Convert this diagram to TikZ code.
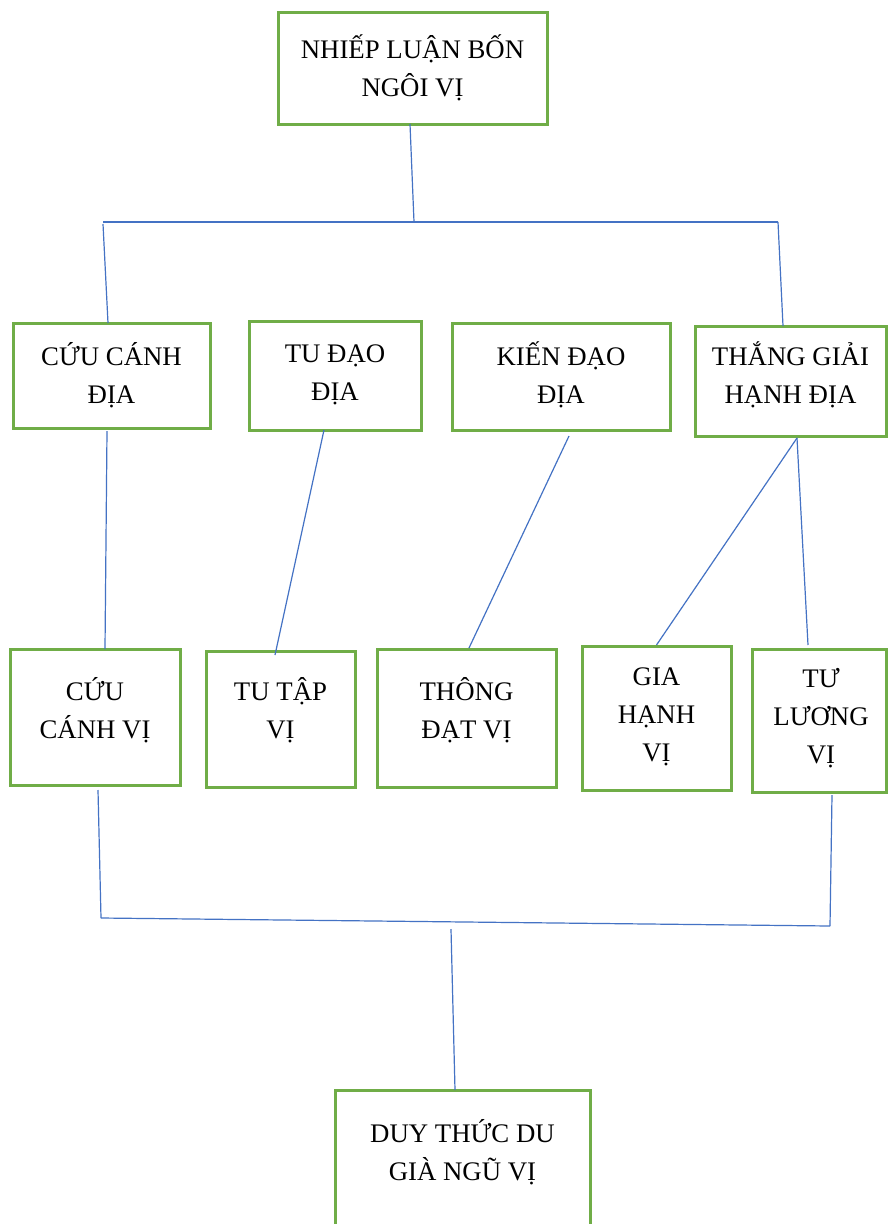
\documentclass[tikz,border=0pt]{standalone}
\usepackage{fontspec}
\setmainfont{Liberation Serif}
\definecolor{boxgreen}{RGB}{112,173,71}
\definecolor{lineblue}{RGB}{68,114,196}
\begin{document}
\begin{tikzpicture}[x=1pt,y=-1pt,
  box/.style={draw=boxgreen,line width=3pt,rectangle,inner sep=0pt,outer sep=0pt},
  lbl/.style={align=center,inner sep=0pt,font=\fontsize{26.8}{38}\selectfont},
  conn/.style={draw=lineblue,line width=1.2pt}]
\useasboundingbox[fill=white] (0,0) rectangle (887,1224);
% boxes
\node[box,minimum width=269pt,minimum height=112pt] (top) at (412.5,68) {};
\node[box,minimum width=197pt,minimum height=105pt] (b1) at (111.5,375.5) {};
\node[box,minimum width=172pt,minimum height=109pt] (b2) at (335,375.5) {};
\node[box,minimum width=218pt,minimum height=107pt] (b3) at (561,376.5) {};
\node[box,minimum width=191pt,minimum height=110pt] (b4) at (790.5,381) {};
\node[box,minimum width=170pt,minimum height=136pt] (c1) at (95,717) {};
\node[box,minimum width=149pt,minimum height=136pt] (c2) at (280.5,719) {};
\node[box,minimum width=179pt,minimum height=138pt] (c3) at (466.5,718) {};
\node[box,minimum width=149pt,minimum height=144pt] (c4) at (656.5,718) {};
\node[box,minimum width=134pt,minimum height=143pt] (c5) at (819,720.5) {};
\node[box,minimum width=255pt,minimum height=160pt] (bot) at (462.5,1170) {};
% labels
\node[lbl] (ttop) at (412.5,68) {NHIẾP LUẬN BỐN\\NGÔI VỊ};
\node[lbl] (tb1) at (111.5,375) {CỨU CÁNH\\ĐỊA};
\node[lbl] (tb2) at (335,375) {TU ĐẠO\\ĐỊA};
\node[lbl] (tb3) at (561,375) {KIẾN ĐẠO\\ĐỊA};
\node[lbl] (tb4) at (790.5,375) {THẮNG GIẢI\\HẠNH ĐỊA};
\node[lbl] (tc1) at (95,710) {CỨU\\CÁNH VỊ};
\node[lbl] (tc2) at (280.5,710) {TU TẬP\\VỊ};
\node[lbl] (tc3) at (466.5,710) {THÔNG\\ĐẠT VỊ};
\node[lbl] (tc4) at (656.5,717) {GIA\\HẠNH\\VỊ};
\node[lbl] (tc5) at (821,718) {TƯ\\LƯƠNG\\VỊ};
\node[lbl] (tbot) at (462.5,1152) {DUY THỨC DU\\GIÀ NGŨ VỊ};
% junctions
\coordinate (jTop) at (414,222);
\coordinate (jL) at (103,222);
\coordinate (jR) at (778,222);
\coordinate (kL) at (101,918);
\coordinate (kR) at (830,926);
\coordinate (kM) at (451,929);
% connectors
\draw[conn] ([xshift=-2.5pt]top.south) -- (jTop);
\draw[conn] (jL) -- (jR);
\draw[conn] ([yshift=-2pt]jL) -- ([xshift=-3.5pt]b1.north);
\draw[conn] (jR) -- ([xshift=-7.5pt]b4.north);
\draw[conn] ([xshift=-4.5pt,yshift=-3pt]b1.south) -- ([xshift=10pt]c1.north);
\draw[conn] ([xshift=-11pt]b2.south) -- ([xshift=-5.5pt,yshift=-4pt]c2.north);
\draw[conn] ([xshift=8pt,yshift=-6pt]b3.south) -- ([xshift=2.5pt,yshift=1pt]c3.north);
\draw[conn] ([xshift=6.5pt,yshift=-2pt]b4.south) -- ([yshift=1pt]c4.north);
\draw[conn] ([xshift=6.5pt,yshift=-2pt]b4.south) -- ([xshift=-11pt,yshift=4pt]c5.north);
\draw[conn] ([xshift=3pt,yshift=-5pt]c1.south) -- (kL);
\draw[conn] ([xshift=13pt,yshift=-3pt]c5.south) -- (kR);
\draw[conn] (kL) -- (kR);
\draw[conn] (kM) -- ([xshift=-7.5pt]bot.north);
\end{tikzpicture}
\end{document}
